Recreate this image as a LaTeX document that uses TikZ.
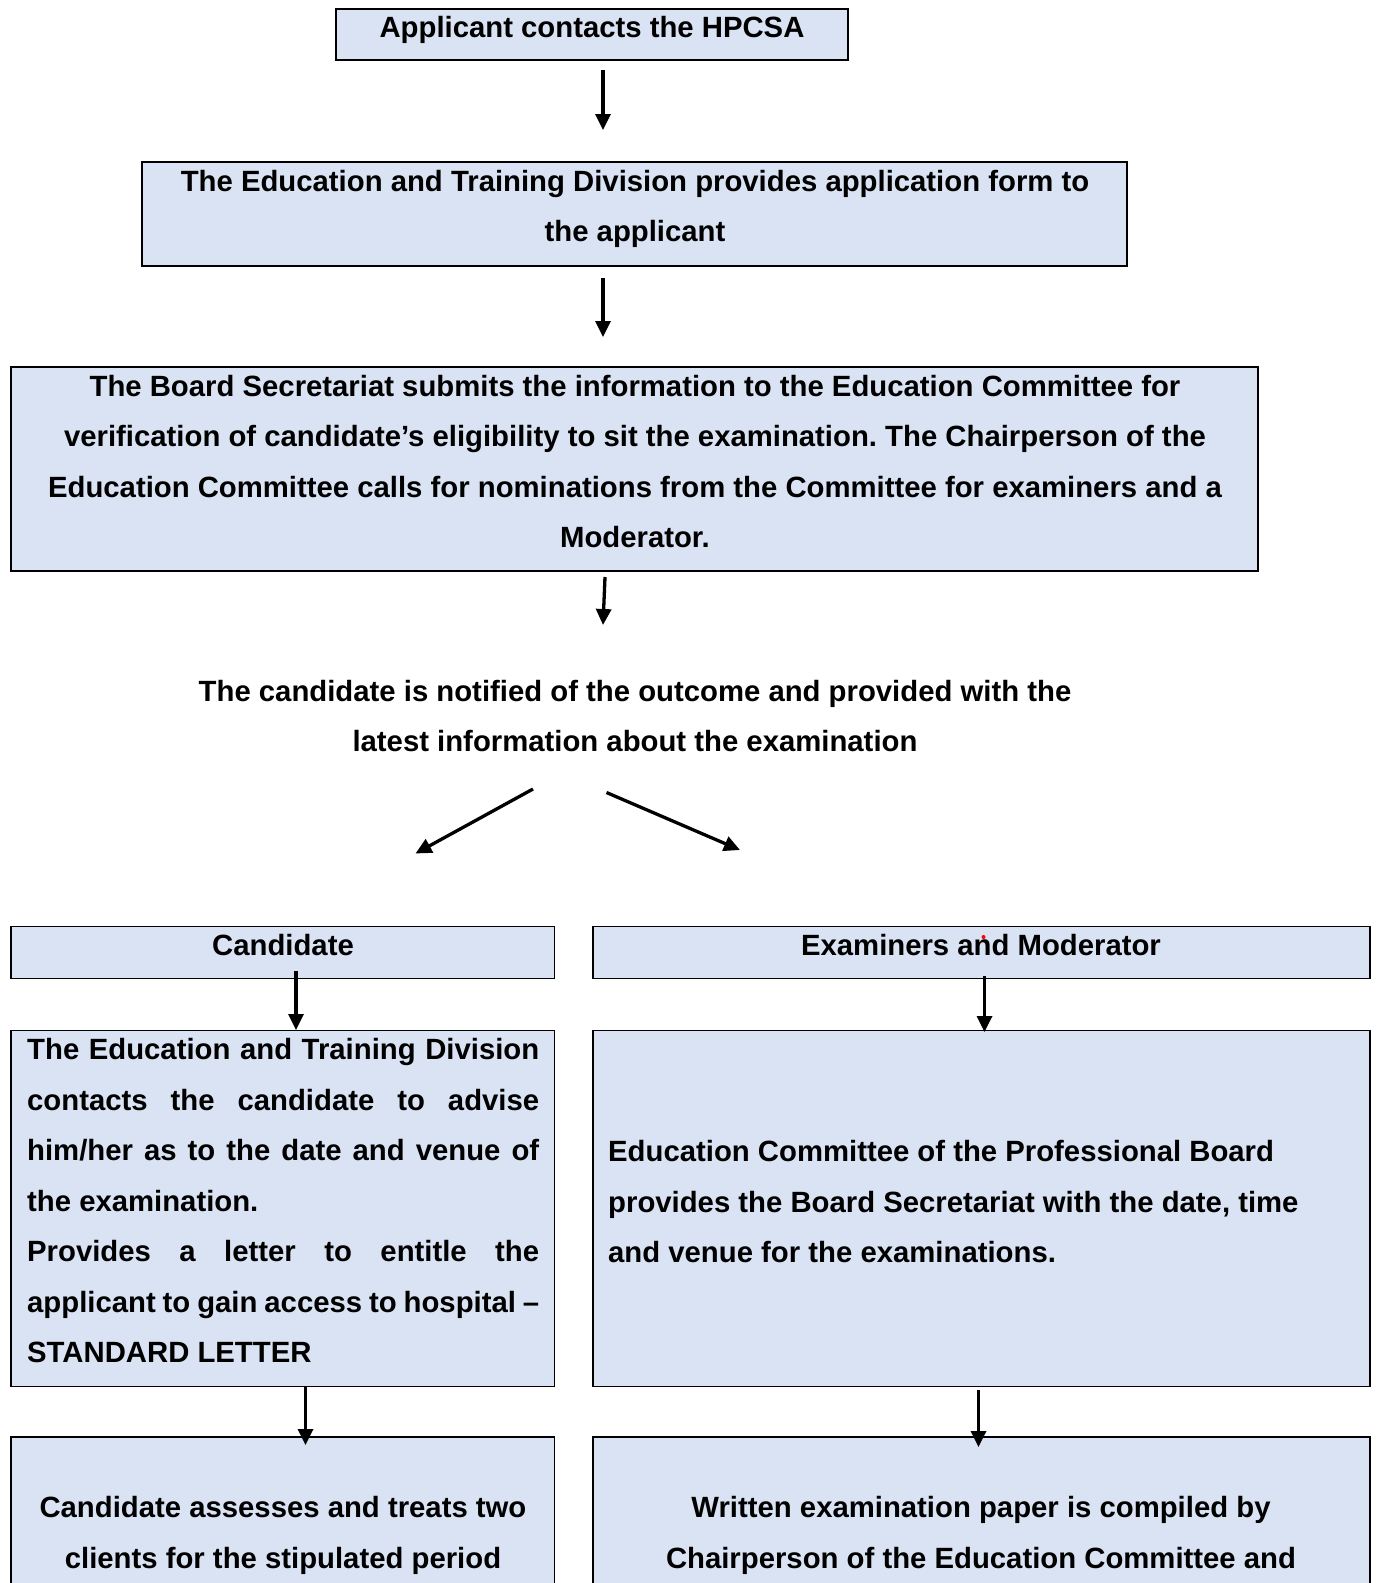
\documentclass[tikz,border=0pt]{standalone}
\usepackage{fontspec}
\setmainfont{Liberation Sans}
\usetikzlibrary{arrows.meta}
\definecolor{boxfill}{RGB}{218,227,243}
\frenchspacing
\begin{document}
\begin{tikzpicture}[x=1pt,y=-1pt,
  box/.style={draw=black, line width=1.8pt, fill=boxfill, inner sep=0pt, outer sep=0pt, anchor=north west},
  txt/.style={font=\fontsize{29.3pt}{50.5pt}\selectfont\bfseries\frenchspacing, inner sep=0pt, align=center, anchor=base},
  arr/.style={line width=3.3pt, -{Triangle[width=15pt,length=16pt]}}]
\useasboundingbox (0,0) rectangle (1376,1583);
\clip (0,0) rectangle (1376,1583);
% boxes
\node[box, minimum width=512pt, minimum height=51pt] (b1) at (336,9) {};
\node[box, minimum width=985pt, minimum height=104pt] (b2) at (142,162) {};
\node[box, minimum width=1247pt, minimum height=204pt] (b3) at (11,367) {};
\node[box, minimum width=543.5pt, minimum height=52pt] (hc) at (11,926.5) {};
\node[box, minimum width=777pt, minimum height=52pt] (he) at (593,926.5) {};
\node[box, minimum width=543.5pt, minimum height=356pt] (bc) at (11,1030.5) {};
\node[box, minimum width=777pt, minimum height=356pt] (be) at (593,1030.5) {};
\node[box, minimum width=543.5pt, minimum height=220pt] (bc2) at (11,1437) {};
\node[box, minimum width=777pt, minimum height=220pt] (be2) at (593,1437) {};
% texts (anchor=base is the baseline of the last line)
\node[txt] (t1) at (592,37.5) {Applicant contacts the HPCSA};
\node[txt] (t2) at (635,241.7) {The Education and Training Division provides application form to\\the applicant};
\node[txt] (t3) at (635,547.6) {The Board Secretariat submits the information to the Education Committee for\\verification of candidate’s eligibility to sit the examination. The Chairperson of the\\Education Committee calls for nominations from the Committee for examiners and a\\Moderator.};
\node[txt] (t4) at (635,751.5) {The candidate is notified of the outcome and provided with the\\latest information about the examination};
\node[txt] (tc) at (283,955) {Candidate};
\node[txt] (te) at (981,955) {Examiners and Moderator};
\node[txt, anchor=base west, text width=512pt, align=justify] (tcb) at (27,1059.5) {The\hfill Education\hfill and\hfill Training\hfill Division\\contacts\hfill the\hfill candidate\hfill to\hfill advise\\him/her\hfill as\hfill to\hfill the\hfill date\hfill and\hfill venue\hfill of\\the examination.\\Provides\hfill a\hfill letter\hfill to\hfill entitle\hfill the\\applicant\hfill to\hfill gain\hfill access\hfill to\hfill hospital\hfill –\\STANDARD LETTER};
\node[txt, anchor=base west, align=left] (teb) at (608,1262.5) {Education Committee of the Professional Board\\provides the Board Secretariat with the date, time\\and venue for the examinations.};
\node[txt] (tc2) at (283,1568) {Candidate assesses and treats two\\clients for the stipulated period};
\node[txt] (te2) at (981,1568) {Written examination paper is compiled by\\Chairperson of the Education Committee and};
\fill[red] (983.5,937) circle (2pt);
% arrow end points
\coordinate (a1s) at (603,70);   \coordinate (a1e) at (603,130);
\coordinate (a2s) at (603,278);  \coordinate (a2e) at (603,337);
\coordinate (a3s) at (605,577);  \coordinate (a3e) at (603,625);
\coordinate (a4s) at (533,789);  \coordinate (a4e) at (415.5,853.5);
\coordinate (a5s) at (606.5,792.5); \coordinate (a5e) at (740,850);
\coordinate (a6s) at (296,971);  \coordinate (a6e) at (296,1030);
\coordinate (a7s) at (984.5,976); \coordinate (a7e) at (984.5,1032);
\coordinate (a8s) at (305.5,1387); \coordinate (a8e) at (305.5,1445);
\coordinate (a9s) at (978.5,1390); \coordinate (a9e) at (978.5,1447);
\foreach \i in {1,...,9} {\draw[arr] (a\i s) -- (a\i e);}
\end{tikzpicture}
\end{document}
